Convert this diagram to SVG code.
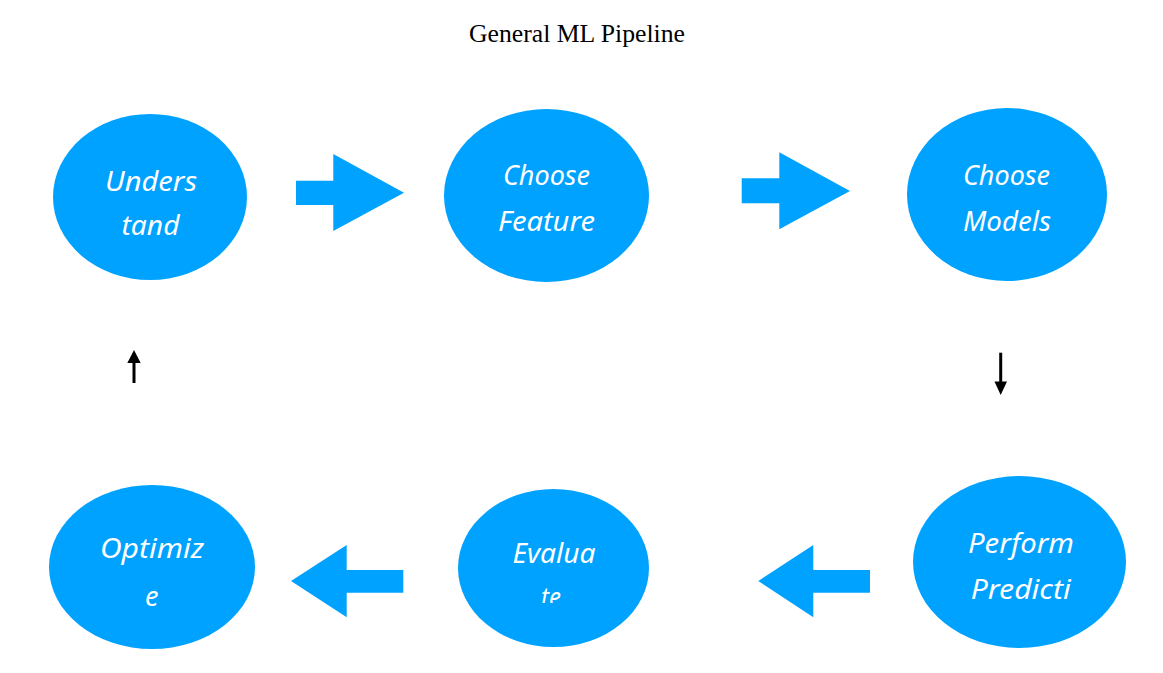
<svg xmlns="http://www.w3.org/2000/svg" width="1163" height="673" viewBox="0 0 1163 673">
<defs>
<style>
.node{fill:#00A2FF;}
.lbl{fill:#FFFFFF;font-family:"Noto Sans","DejaVu Sans",sans-serif;font-size:27px;font-style:italic;text-anchor:middle;}
.title{fill:#000000;font-family:"Liberation Serif","Times New Roman",serif;font-size:25.7px;text-anchor:middle;}
.blk{fill:#00A2FF;}
.ln{stroke:#000000;stroke-width:3;fill:none;}
</style>
<clipPath id="clipEval"><rect x="440" y="480" width="230" height="123"/></clipPath>
</defs>
<rect width="1163" height="673" fill="#FFFFFF"/>
<text class="title" x="577" y="42">General ML Pipeline</text>

<g id="understand">
<ellipse class="node" cx="150" cy="197" rx="97" ry="83"/>
<text class="lbl" x="151" y="191" textLength="92" lengthAdjust="spacingAndGlyphs">Unders</text>
<text class="lbl" x="150.5" y="235" textLength="58" lengthAdjust="spacingAndGlyphs">tand</text>
</g>
<g id="choose-feature">
<ellipse class="node" cx="546.5" cy="195.5" rx="102.5" ry="86.5"/>
<text class="lbl" x="546.5" y="185" textLength="87" lengthAdjust="spacingAndGlyphs">Choose</text>
<text class="lbl" x="546.5" y="231" textLength="97" lengthAdjust="spacingAndGlyphs">Feature</text>
</g>
<g id="choose-models">
<ellipse class="node" cx="1007" cy="194.5" rx="100" ry="86.5"/>
<text class="lbl" x="1006.5" y="185" textLength="87" lengthAdjust="spacingAndGlyphs">Choose</text>
<text class="lbl" x="1007" y="231" textLength="88" lengthAdjust="spacingAndGlyphs">Models</text>
</g>
<g id="perform-prediction">
<ellipse class="node" cx="1019.5" cy="562" rx="106.5" ry="86"/>
<text class="lbl" x="1021" y="553" textLength="106" lengthAdjust="spacingAndGlyphs">Perform</text>
<text class="lbl" x="1020.7" y="599" textLength="100" lengthAdjust="spacingAndGlyphs">Predicti</text>
</g>
<g id="evaluate">
<ellipse class="node" cx="553.5" cy="568" rx="95.5" ry="79"/>
<text class="lbl" x="554" y="563" textLength="83" lengthAdjust="spacingAndGlyphs">Evalua</text>
<text class="lbl" x="554" y="607" textLength="26" lengthAdjust="spacingAndGlyphs" clip-path="url(#clipEval)">te.</text>
</g>
<g id="optimize">
<ellipse class="node" cx="152" cy="567" rx="103" ry="82"/>
<text class="lbl" x="152" y="558" textLength="104" lengthAdjust="spacingAndGlyphs">Optimiz</text>
<text class="lbl" x="151.7" y="606">e</text>
</g>

<g id="connectors">
<polygon class="blk" points="296,180.7 333.3,180.7 333.3,154 404,192.7 333.3,231 333.3,205 296,205"/>
<polygon class="blk" points="741.7,178.3 779.3,178.3 779.3,152.3 850,191 779.3,229.3 779.3,203.3 741.7,203.3"/>
<polygon class="blk" points="870,570 813.3,570 813.3,545 758.3,581 813.3,617.3 813.3,592.7 870,592.7"/>
<polygon class="blk" points="403.3,570 346.7,570 346.7,545 291,581 346.7,617.3 346.7,592.7 403.3,592.7"/>
<line class="ln" x1="1000.7" y1="352.7" x2="1000.7" y2="382"/>
<polygon points="994.5,381.5 1007,381.5 1000.7,395" fill="#000000"/>
<line class="ln" x1="134" y1="383" x2="134" y2="362"/>
<polygon points="127.3,363 140.7,363 134,350" fill="#000000"/>
</g>
</svg>
